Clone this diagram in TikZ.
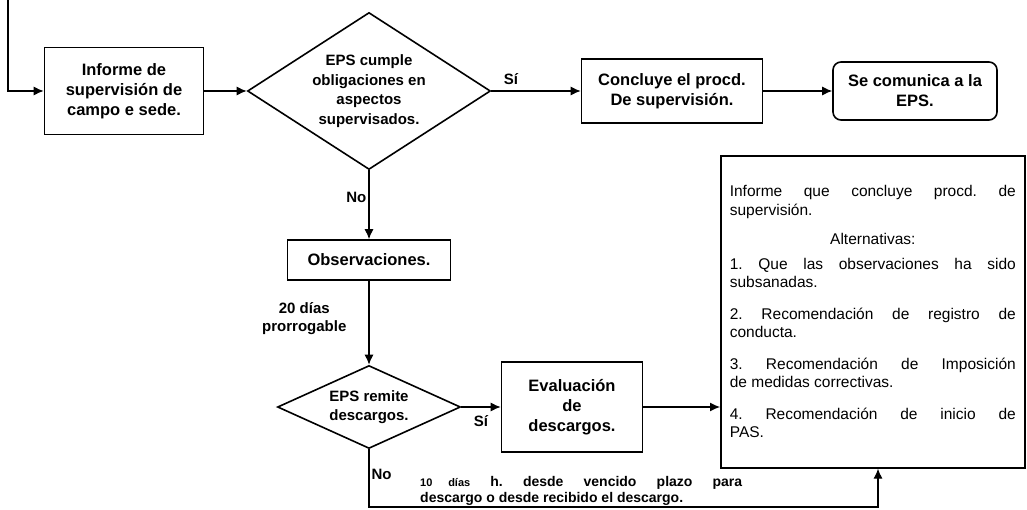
\documentclass[tikz,border=0pt]{standalone}
\usepackage{fontspec}
\setmainfont{Liberation Sans}
\usetikzlibrary{arrows.meta,shapes.geometric}

\tikzset{
	flowbox/.style={draw, line width=1.6pt, align=center, inner sep=2pt,
		font=\bfseries\fontsize{16.5}{20}\selectfont},
	decision/.style={draw, diamond, line width=1.6pt, align=center, inner sep=0pt,
		font=\bfseries\fontsize{15}{19.5}\selectfont},
	flowlabel/.style={font=\bfseries\fontsize{15}{18}\selectfont, inner sep=2pt},
	link/.style={->, line width=1.2pt},
}

\begin{document}
\begin{tikzpicture}[x=1pt,y=-1pt,>={Latex[length=10pt,width=9pt]}]
		\useasboundingbox (0,0) rectangle (1027,510);
		\node [flowbox, minimum width=159pt, minimum height=87pt] (informe) at (124,91) 
			{Informe de\\supervisión de\\campo e sede.};
		\node [decision, aspect=1.55, minimum width=243pt, minimum height=157pt] (cumple) at (369,91) 
			{EPS cumple\\obligaciones en\\aspectos\\supervisados.};
		\node [flowbox, minimum width=181pt, minimum height=64pt] (concluye) at (672,91) 
			{Concluye el procd.\\De supervisión.};
		\node [flowbox, rounded corners=8pt, minimum width=164pt, minimum height=58pt] (comunica) at (915,91) 
			{Se comunica a la\\EPS.};
		\node [flowbox, minimum width=163pt, minimum height=40pt] (observ) at (369,260) 
			{Observaciones.};
		\node [decision, aspect=2.2, minimum width=183pt, minimum height=83pt] (remite) at (369,407) 
			{EPS remite\\descargos.};
		\node [flowbox, minimum width=141pt, minimum height=90pt] (evalua) at (572,407) 
			{Evaluación\\de\\descargos.};
		\node [draw, line width=1.6pt, anchor=north west, text width=286pt, minimum height=312pt, 
			inner sep=9pt, align=justify, font=\frenchspacing\fontsize{15.5}{18.5}\selectfont] (alternat) at (720,155) 
			{Informe que concluye procd. de\linebreak supervisión.\par
			\vspace{11pt}{\centering Alternativas:\par}
			\vspace{6pt}1. Que las observaciones ha sido\linebreak subsanadas.\par
			\vspace{13pt}2. Recomendación de registro de\linebreak conducta.\par
			\vspace{13pt}3. Recomendación de Imposición\linebreak de medidas correctivas.\par
			\vspace{13pt}4. Recomendación de inicio de\linebreak PAS.\par\vspace{10pt}};
		\node [anchor=base west, text width=322pt, inner sep=0pt, align=justify, 
			font=\frenchspacing\bfseries\fontsize{14}{16}\selectfont] (plazo) at (420,486) 
			{{\fontsize{11}{13}\selectfont 10 días} h. desde vencido plazo para\linebreak 
			descargo o desde recibido el descargo.};
		\coordinate (entrada) at (8,0);
		\coordinate (giro) at (878,507);
		\draw [link] (entrada) |- (informe);
		\draw [link] (informe) to (cumple);
		\draw [link] (cumple) to 
			node [flowlabel, above=4pt, pos=0.22] {Sí} 
			(concluye);
		\draw [link] (concluye) to (comunica);
		\draw [link] (cumple) to 
			node [flowlabel, left, pos=0.4] {No} 
			(observ);
		\draw [link] (observ) to 
			node [flowlabel, left=20pt, pos=0.45, align=center] {20 días\\prorrogable} 
			(remite);
		\draw [link] (remite) to 
			node [flowlabel, below=6pt, pos=0.5] {Sí} 
			(evalua);
		\draw [link] (evalua) to (evalua -| alternat.west);
		\draw [link] (remite) |- 
			node [flowlabel, right, pos=0.22] {No} 
			(giro) -- (giro |- alternat.south);
	\end{tikzpicture}
\end{document}
